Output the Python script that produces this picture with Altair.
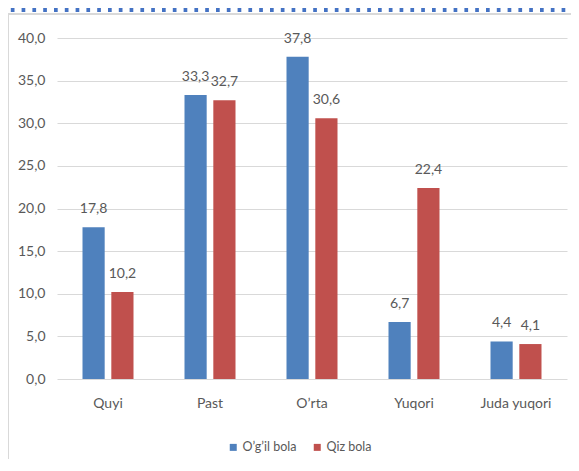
import altair as alt
import pandas as pd

categories = ["Quyi", "Past", "O’rta", "Yuqori", "Juda yuqori"]
series = ["O’g’il bola", "Qiz bola"]
boys = [17.8, 33.3, 37.8, 6.7, 4.4]
girls = [10.2, 32.7, 30.6, 22.4, 4.1]
colors = ["#4F81BD", "#C0504D"]
y_ticks = [0, 5, 10, 15, 20, 25, 30, 35, 40]

rows = []
for c, b, g in zip(categories, boys, girls):
    rows.append({"cat": c, "series": series[0], "value": b})
    rows.append({"cat": c, "series": series[1], "value": g})
df = pd.DataFrame(rows)

FONT = "Lato, sans-serif"
GRAY = "#595959"
FS = 14

x_enc = alt.X(
    "cat:N", sort=categories,
    scale=alt.Scale(paddingInner=0.5, paddingOuter=0.25),
    axis=alt.Axis(title=None, labelAngle=0, domain=False, ticks=False,
                  labelPadding=17, labelFont=FONT, labelFontSize=FS,
                  labelColor=GRAY, grid=False),
)
xo_enc = alt.XOffset("series:N", sort=series, scale=alt.Scale(paddingInner=0.23, paddingOuter=0))
y_enc = alt.Y(
    "value:Q",
    scale=alt.Scale(domain=[0, 40], nice=False, zero=True),
    axis=alt.Axis(title=None, values=y_ticks, domain=False, ticks=False,
                  labelPadding=12, labelFont=FONT, labelFontSize=FS,
                  labelColor=GRAY, gridColor="#d9d9d9", gridWidth=1,
                  labelExpr="replace(format(datum.value, '.1f'), '.', ',')"),
)

bars = alt.Chart(df).mark_bar().encode(
    x=x_enc, xOffset=xo_enc, y=y_enc,
    color=alt.Color(
        "series:N", sort=series,
        scale=alt.Scale(domain=series, range=colors),
        legend=alt.Legend(title=None, orient="none", legendX=170, legendY=403,
                          direction="horizontal", symbolType="square",
                          symbolSize=49, symbolStrokeWidth=0, labelOffset=3,
                          columnPadding=14, labelFont=FONT, labelFontSize=12.5,
                          labelColor=GRAY),
    ),
)

labels = alt.Chart(df).transform_calculate(
    lab="replace(format(datum.value, '.1f'), '.', ',')"
).mark_text(
    baseline="alphabetic", dy=-14, font=FONT, fontSize=FS, color=GRAY
).encode(x=x_enc, xOffset=xo_enc, y=y_enc, text="lab:N")

one = pd.DataFrame({"k": [0]})
frame_left = alt.Chart(one).mark_rule(color="#d9d9d9", strokeWidth=2).encode(
    x=alt.value(-49), y=alt.value(-24), y2=alt.value(440))
frame_top = alt.Chart(one).mark_rule(color="#d9d9d9", strokeWidth=2).encode(
    x=alt.value(-49), x2=alt.value(530), y=alt.value(-24))
dotted = alt.Chart(one).mark_rule(color="#4472C4", strokeWidth=4, strokeDash=[3.7, 7.1]).encode(
    x=alt.value(-57), x2=alt.value(530), y=alt.value(-28))

chart = alt.layer(frame_left, frame_top, dotted, bars, labels).properties(
    width=510, height=341,
    autosize=alt.AutoSizeParams(type="none"),
    padding={"left": 49, "top": 30, "right": 4, "bottom": 80},
).configure_view(stroke=None)

chart.save("out.html", embed_options={"renderer": "svg", "actions": False})
